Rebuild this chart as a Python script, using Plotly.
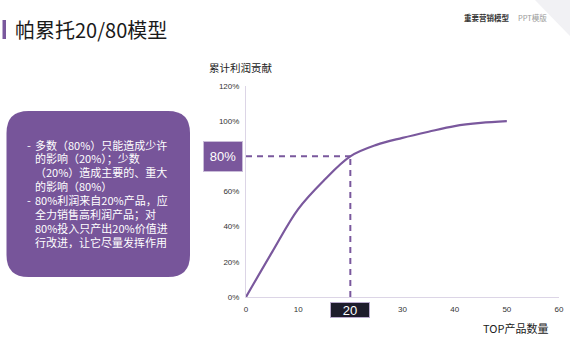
import plotly.graph_objects as go

# ---- data ----
top_products = [0, 5, 10, 15, 20, 25, 30, 35, 40, 45, 50]
cum_profit = [0, 25.5, 50, 66.5, 80, 86.5, 90.5, 94, 97.2, 99, 100]
marker_x = 20
marker_y = 80
x_ticks = [0, 10, 20, 30, 40, 50, 60]
y_ticks = [0, 20, 40, 60, 80, 100, 120]
y_tick_labels = [f"{v}%" for v in y_ticks]

title_text = "帕累托20/80模型"
y_title = "累计利润贡献"
x_title = "TOP产品数量"
box_lines = [
    "- 多数（80%）只能造成少许",
    "  的影响（20%）；少数",
    "  （20%）造成主要的、重大",
    "  的影响（80%）",
    "- 80%利润来自20%产品，应",
    "  全力销售高利润产品；对",
    "  80%投入只产出20%价值进",
    "  行改进，让它尽量发挥作用",
]

PURPLE = "#7a589d"
CJK = "Noto Sans CJK SC"
LAT = "Liberation Sans"

W_FIG, H_FIG = 570, 360
L, R, T, B = 246, 11, 86, 63
PW = W_FIG - L - R
PH = H_FIG - T - B


def px(x):
    return (x - L) / PW


def py(y):
    return (H_FIG - B - y) / PH


fig = go.Figure()
fig.add_trace(go.Scatter(
    x=top_products, y=cum_profit, mode="lines",
    line=dict(color=PURPLE, width=2.2, shape="spline", smoothing=1.0),
    hoverinfo="skip", showlegend=False, cliponaxis=False,
))

shapes = []
# dashed guide lines
shapes.append(dict(type="line", xref="x", yref="y", x0=0, x1=marker_x, y0=marker_y, y1=marker_y,
                   line=dict(color=PURPLE, width=2, dash="6px,5px")))
shapes.append(dict(type="line", xref="x", yref="y", x0=marker_x, x1=marker_x, y0=0, y1=marker_y,
                   line=dict(color=PURPLE, width=2, dash="6px,5px")))

# title bar
shapes.append(dict(type="rect", xref="paper", yref="paper",
                   x0=px(2.5), x1=px(6), y0=py(39), y1=py(20),
                   fillcolor=PURPLE, line=dict(width=0), layer="above"))

# faint corner decoration
shapes.append(dict(type="path", xref="paper", yref="paper",
                   path=f"M {px(535)} {py(0)} L {px(570)} {py(0)} L {px(570)} {py(36)} Z",
                   fillcolor="#f1f1f4", line=dict(width=0), layer="below"))

# rounded text box
x0, x1, y0, y1, r = 6.5, 190, 111, 277, 22
p = (f"M {px(x0 + r)} {py(y0)} L {px(x1 - r)} {py(y0)} "
     f"Q {px(x1)} {py(y0)} {px(x1)} {py(y0 + r)} "
     f"L {px(x1)} {py(y1 - r)} Q {px(x1)} {py(y1)} {px(x1 - r)} {py(y1)} "
     f"L {px(x0 + r)} {py(y1)} Q {px(x0)} {py(y1)} {px(x0)} {py(y1 - r)} "
     f"L {px(x0)} {py(y0 + r)} Q {px(x0)} {py(y0)} {px(x0 + r)} {py(y0)} Z")
shapes.append(dict(type="path", xref="paper", yref="paper", path=p,
                   fillcolor="#77559a", line=dict(width=0), layer="above"))

annotations = []
annotations.append(dict(text=title_text, xref="paper", yref="paper", x=px(13), y=py(29),
                        xanchor="left", yanchor="middle", showarrow=False,
                        font=dict(family=CJK, size=20, color="#1a1a1a")))
annotations.append(dict(text="<b>重要营销模型</b>", xref="paper", yref="paper", x=px(512), y=py(17),
                        xanchor="right", yanchor="middle", showarrow=False,
                        font=dict(family=CJK, size=7.5, color="#333333")))
annotations.append(dict(text="PPT模版", xref="paper", yref="paper", x=px(516), y=py(17),
                        xanchor="left", yanchor="middle", showarrow=False,
                        font=dict(family=CJK, size=7.5, color="#9a9a9a")))
annotations.append(dict(text=y_title, xref="paper", yref="paper", x=px(207), y=py(67),
                        xanchor="left", yanchor="middle", showarrow=False,
                        font=dict(family=CJK, size=10.5, color="#222222")))
annotations.append(dict(text=x_title, xref="paper", yref="paper", x=px(550), y=py(328),
                        xanchor="right", yanchor="middle", showarrow=False,
                        font=dict(family=CJK, size=11, color="#222222")))

line_y = [145, 158, 171.5, 185.5, 199.5, 213.5, 227.5, 241.5]
for txt, yy in zip(box_lines, line_y):
    if txt.startswith("- "):
        annotations.append(dict(text="-", xref="paper", yref="paper", x=px(25), y=py(yy),
                                xanchor="left", yanchor="middle", showarrow=False,
                                font=dict(family=CJK, size=11, color="white")))
        body = txt[2:]
    else:
        body = txt.strip()
    annotations.append(dict(text=body, xref="paper", yref="paper", x=px(33), y=py(yy),
                            xanchor="left", yanchor="middle", showarrow=False,
                            font=dict(family=CJK, size=11, color="white")))

# value label boxes
annotations.append(dict(text=f"{marker_y}%", xref="paper", yref="y", x=px(222.5), y=marker_y,
                        xanchor="center", yanchor="middle", showarrow=False,
                        width=38, height=29, bgcolor="#7a579c", bordercolor="#c9bcd8", borderwidth=1,
                        borderpad=0, font=dict(family=LAT, size=13, color="white")))
annotations.append(dict(text=str(marker_x), xref="x", yref="paper", x=marker_x, y=py(309.7),
                        xanchor="center", yanchor="middle", showarrow=False,
                        width=38, height=14, bgcolor="#1d1b2b", bordercolor="#b9a9cc", borderwidth=1,
                        borderpad=0, font=dict(family=LAT, size=13, color="white")))

fig.update_layout(
    template="none",
    width=W_FIG, height=H_FIG, autosize=False,
    margin=dict(l=L, r=R, t=T, b=B, pad=0),
    paper_bgcolor="white", plot_bgcolor="white",
    shapes=shapes, annotations=annotations,
    showlegend=False,
    xaxis=dict(range=[0, 60], tickmode="array", tickvals=x_ticks, showgrid=False, zeroline=False,
               showline=True, linecolor="#dcd5e6", linewidth=1, automargin=False,
               ticks="outside", ticklen=4, tickcolor="rgba(0,0,0,0)",
               tickfont=dict(family=LAT, size=8, color="#333333"), fixedrange=True),
    yaxis=dict(range=[0, 120], tickmode="array", tickvals=y_ticks, ticktext=y_tick_labels,
               showgrid=False, zeroline=False, automargin=False,
               showline=True, linecolor="#dcd5e6", linewidth=1,
               ticks="outside", ticklen=4, tickcolor="rgba(0,0,0,0)",
               tickfont=dict(family=LAT, size=8, color="#333333"), fixedrange=True),
)

fig.write_html(
    "out.html",
    config={"displayModeBar": False},
    post_script=("document.documentElement.style.overflow='hidden';"
                 "document.body.style.margin='0px';document.body.style.overflow='hidden';"),
)
